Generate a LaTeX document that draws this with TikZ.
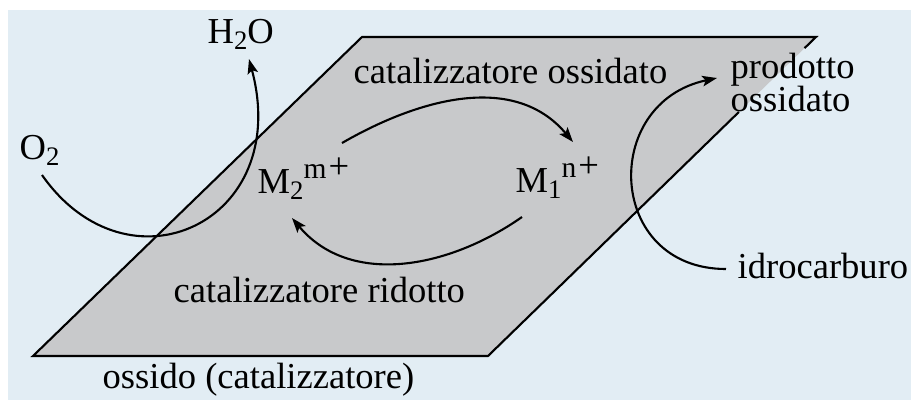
\documentclass[tikz,border=0pt]{standalone}
\usepackage{fontspec}
\setmainfont{Liberation Serif}
\usetikzlibrary{arrows.meta,calc}

\definecolor{fondo}{RGB}{226,237,244}
\definecolor{superficie}{RGB}{200,201,203}

\newcommand{\righestrette}{\fontsize{10.4}{7.6}\selectfont\lineskiplimit=-10pt\relax}
\newcommand{\pedice}[1]{\raisebox{-0.19em}{\fontsize{7.6}{8}\selectfont#1}}
\newcommand{\carica}[1]{\raisebox{0.41em}{\fontsize{8.4}{9}\selectfont#1\kern0.6pt\fontsize{10.4}{12}\selectfont+}}

\tikzset{
  freccia/.style={line width=0.6pt, -{Stealth[length=4.2pt, width=3pt, inset=0.9pt]}},
  etichetta/.style={inner sep=0pt, anchor=base west}
}

\begin{document}
\begin{tikzpicture}[font=\fontsize{10.4}{12}\selectfont]
        \useasboundingbox (0, 0) rectangle (9.11, 4.00);
        % Fondo
        \fill[fondo] (0.08, 0) rectangle (9.11, 3.90);

        % Superficie dell'ossido
        \coordinate (tl) at (3.62, 3.63);
        \coordinate (tr) at (8.16, 3.63);
        \coordinate (br) at (4.88, 0.44);
        \coordinate (bl) at (0.33, 0.44);
        \fill[superficie] (tl) -- (tr) -- (br) -- (bl) -- cycle;
        \draw[line width=0.6pt] ($(br)!0.765!(tr)$) -- (br) -- (bl) -- (tl) -- (tr) -- ($(br)!0.965!(tr)$);

        % Specie e testi
        \node[etichetta] (h2o) at (2.07, 3.57) {H\pedice{2}O};
        \node[etichetta] (o2) at (0.19, 2.41) {O\pedice{2}};
        \node[etichetta] (m2) at (2.57, 2.07) {M\pedice{2}\carica{m}};
        \node[etichetta] (m1) at (5.15, 2.08) {M\pedice{1}\carica{n}};
        \node[etichetta] (ossidato) at (3.53, 3.17) {catalizzatore ossidato};
        \node[etichetta] (ridotto) at (1.73, 0.98) {catalizzatore ridotto};
        \node[etichetta] (ossido) at (1.02, 0.12) {ossido (catalizzatore)};
        \node[inner sep=0pt, anchor=north west, align=left, font=\righestrette] (prodotto) at (7.30, 3.48) {prodotto\\[1.8pt]ossidato};
        \node[etichetta] (idro) at (7.37, 1.22) {idrocarburo};

        % Ciclo redox
        \draw[freccia] ([shift={(0.85, 0.50)}]m2.base west) to[out=30, in=130] ([shift={(0.58, 0.50)}]m1.base west);
        \draw[freccia] ([shift={(0.07, -0.25)}]m1.base west) to[out=-145, in=-50] ([shift={(0.35, -0.25)}]m2.base west);

        % Ossigeno e idrocarburo
        \draw[freccia] ([shift={(0.23, -0.16)}]o2.base west) to[out=-55, in=-75, out looseness=1.62, in looseness=1.83] ([shift={(0.42, -0.16)}]h2o.base west);
        \draw[freccia] ([shift={(-0.11, 0.09)}]idro.base west) to[out=180, in=192, looseness=1.6] ([shift={(-0.13, -0.26)}]prodotto.north west);
\end{tikzpicture}
\end{document}
